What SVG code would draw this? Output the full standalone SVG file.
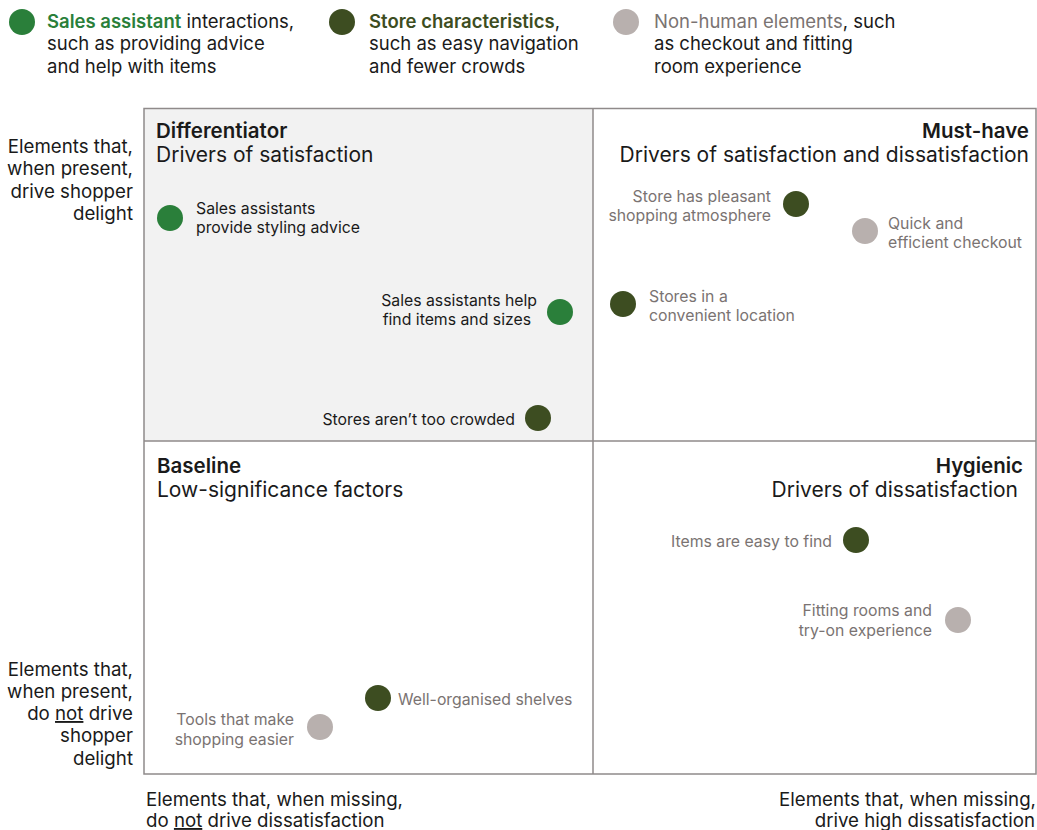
<svg xmlns="http://www.w3.org/2000/svg" width="1037" height="830" viewBox="0 0 1037 830">
<style>
text{font-family:Inter,"Liberation Sans",sans-serif;fill:#1a1a1a}
.lg{font-size:18.5px}
.ax{font-size:18.7px}
.qt{font-size:20.5px;font-weight:600}
.qs{font-size:21px}
.pt{font-size:15.8px}
.gr{fill:#7a7372}
.cg{fill:#2a7f3a}
.co{fill:#3d4d21}
.cn{fill:#b8b0ae}
.gt{fill:#2a7f3a}
.ot{fill:#3d4d21}
.frame{fill:none;stroke:#8f8a8a;stroke-width:1.5}
</style>
<rect width="1037" height="830" fill="#ffffff"/>
<g id="legend">
  <g id="legend-sales">
    <circle class="cg" cx="22" cy="22" r="13"/>
    <text class="lg" x="47" y="28"><tspan class="gt" font-weight="600">Sales assistant</tspan> interactions,</text>
    <text class="lg" x="47" y="50">such as providing advice</text>
    <text class="lg" x="47" y="73">and help with items</text>
  </g>
  <g id="legend-store">
    <circle class="co" cx="342" cy="22" r="13"/>
    <text class="lg" x="369" y="28"><tspan class="ot" font-weight="600">Store characteristics</tspan>,</text>
    <text class="lg" x="369" y="50">such as easy navigation</text>
    <text class="lg" x="369" y="73">and fewer crowds</text>
  </g>
  <g id="legend-nonhuman">
    <circle class="cn" cx="626" cy="22" r="13"/>
    <text class="lg" x="654" y="28"><tspan class="gr">Non-human elements</tspan>, such</text>
    <text class="lg" x="654" y="50">as checkout and fitting</text>
    <text class="lg" x="654" y="73">room experience</text>
  </g>
</g>
<g id="grid">
  <rect x="144" y="108.5" width="449" height="332.5" fill="#f2f2f2"/>
  <rect class="frame" x="144" y="108.5" width="892" height="665.5"/>
  <line class="frame" x1="593" y1="108.5" x2="593" y2="774"/>
  <line class="frame" x1="144" y1="441" x2="1036" y2="441"/>
</g>
<g id="axis-labels">
  <g id="y-top" text-anchor="end">
    <text class="ax" x="133" y="153">Elements that,</text>
    <text class="ax" x="133" y="175">when present,</text>
    <text class="ax" x="133" y="198">drive shopper</text>
    <text class="ax" x="133" y="220">delight</text>
  </g>
  <g id="y-bottom" text-anchor="end">
    <text class="ax" x="133" y="676">Elements that,</text>
    <text class="ax" x="133" y="698">when present,</text>
    <text class="ax" x="133" y="720">do <tspan text-decoration="underline">not</tspan> drive</text>
    <text class="ax" x="133" y="742">shopper</text>
    <text class="ax" x="133" y="765">delight</text>
  </g>
  <g id="x-left">
    <text class="ax" x="146" y="806">Elements that, when missing,</text>
    <text class="ax" x="146" y="827">do <tspan text-decoration="underline">not</tspan> drive dissatisfaction</text>
  </g>
  <g id="x-right" text-anchor="end">
    <text class="ax" x="1036" y="806">Elements that, when missing,</text>
    <text class="ax" x="1035" y="827">drive high dissatisfaction</text>
  </g>
</g>
<g id="q-differentiator">
  <text class="qt" x="156" y="138">Differentiator</text>
  <text class="qs" x="156" y="162">Drivers of satisfaction</text>
</g>
<g id="q-musthave" text-anchor="end">
  <text class="qt" x="1029" y="138">Must-have</text>
  <text class="qs" x="1029" y="162">Drivers of satisfaction and dissatisfaction</text>
</g>
<g id="q-baseline">
  <text class="qt" x="157" y="473">Baseline</text>
  <text class="qs" x="157" y="497">Low-significance factors</text>
</g>
<g id="q-hygienic" text-anchor="end">
  <text class="qt" x="1023" y="473">Hygienic</text>
  <text class="qs" x="1018" y="497">Drivers of dissatisfaction</text>
</g>
<g id="p-styling">
  <circle class="cg" cx="170" cy="218" r="13"/>
  <text class="pt" x="196" y="214">Sales assistants</text>
  <text class="pt" x="196" y="233">provide styling advice</text>
</g>
<g id="p-find-sizes">
  <circle class="cg" cx="560" cy="312" r="13"/>
  <text class="pt" x="537" y="306" text-anchor="end">Sales assistants help</text>
  <text class="pt" x="531" y="325" text-anchor="end">find items and sizes</text>
</g>
<g id="p-crowded">
  <circle class="co" cx="538" cy="418" r="13"/>
  <text class="pt" x="515" y="425" text-anchor="end">Stores aren’t too crowded</text>
</g>
<g id="p-atmosphere">
  <circle class="co" cx="796" cy="204" r="13"/>
  <text class="pt gr" x="771" y="202" text-anchor="end">Store has pleasant</text>
  <text class="pt gr" x="771" y="221" text-anchor="end">shopping atmosphere</text>
</g>
<g id="p-checkout">
  <circle class="cn" cx="865" cy="231" r="13"/>
  <text class="pt gr" x="888" y="229">Quick and</text>
  <text class="pt gr" x="888" y="248">efficient checkout</text>
</g>
<g id="p-location">
  <circle class="co" cx="623" cy="304" r="13"/>
  <text class="pt gr" x="649" y="302">Stores in a</text>
  <text class="pt gr" x="649" y="321">convenient location</text>
</g>
<g id="p-easy-find">
  <circle class="co" cx="856" cy="540" r="13"/>
  <text class="pt gr" x="832" y="547" text-anchor="end">Items are easy to find</text>
</g>
<g id="p-fitting">
  <circle class="cn" cx="958" cy="620" r="13"/>
  <text class="pt gr" x="932" y="616" text-anchor="end">Fitting rooms and</text>
  <text class="pt gr" x="932" y="636" text-anchor="end">try-on experience</text>
</g>
<g id="p-shelves">
  <circle class="co" cx="378" cy="698" r="13"/>
  <text class="pt gr" x="398" y="705">Well-organised shelves</text>
</g>
<g id="p-tools">
  <circle class="cn" cx="320" cy="727" r="13"/>
  <text class="pt gr" x="294" y="725" text-anchor="end">Tools that make</text>
  <text class="pt gr" x="294" y="745" text-anchor="end">shopping easier</text>
</g>
</svg>
